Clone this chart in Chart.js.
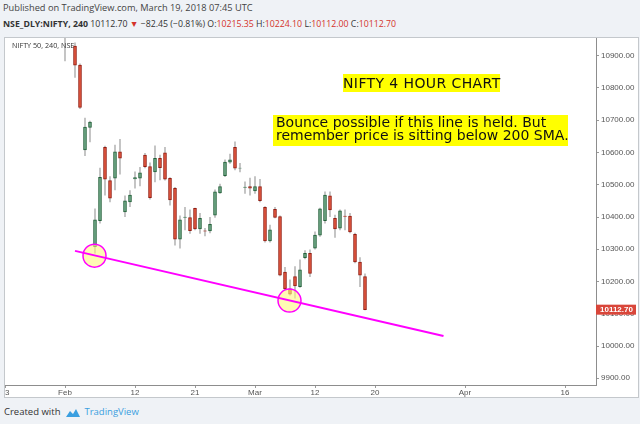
<!DOCTYPE html>
<html>
<head>
<meta charset="utf-8">
<script src="https://cdn.jsdelivr.net/npm/chart.js@4.4.1/dist/chart.umd.min.js"></script>
<style>
  html, body { margin: 0; padding: 0; }
  body { width: 640px; height: 424px; background: #eff2f6; position: relative; overflow: hidden; font-family: "Open Sans", sans-serif; color: #222; }
  .hdr { position: absolute; left: 3px; white-space: nowrap; line-height: 12px; }
  #hdr1 { top: 2px; color: #444; font-size: 9.25px; }
  #hdr2 { top: 18px; color: #333; font-size: 8.75px; }
  #hdr2 .r { color: #d4332b; }
  #frame { position: absolute; left: 4px; top: 37px; width: 633px; height: 359px; background: #fff; border: 1px solid #c4c8cc; }
  #frame canvas { position: absolute; left: 0; top: 0; }
  #legend { position: absolute; left: 7px; top: 2px; font-size: 7.2px; color: #333; white-space: nowrap; }
  .note { position: absolute; background: #ffff00; color: #111; font-family: "DejaVu Sans", sans-serif; font-size: 14px; white-space: nowrap; }
  #note1 { left: 338px; top: 36px; width: 157px; height: 18px; line-height: 18px; text-align: center; letter-spacing: 0.4px; }
  #note2 { left: 268px; top: 77px; width: 292px; padding: 1px 0 3px 3px; line-height: 13.4px; }
  #foot { position: absolute; left: 4px; top: 405px; font-size: 9.5px; line-height: 14px; color: #333; white-space: nowrap; }
  #foot svg { vertical-align: -3px; margin: 0 3px 0 5px; }
  #foot .tv { color: #3a9fe0; }
</style>
</head>
<body>
<div class="hdr" id="hdr1">Published on TradingView.com, March 19, 2018 07:45 UTC</div>
<div class="hdr" id="hdr2"><b>NSE_DLY:NIFTY, 240</b> 10112.70 <span class="r">&#9660;</span> &minus;82.45 (&minus;0.81%) O:<span class="r">10215.35</span> H:<span class="r">10224.10</span> L:<span class="r">10112.00</span> C:<span class="r">10112.70</span></div>
<div id="frame">
  <canvas id="graficoNifty" width="633" height="359" style="width:633px;height:359px"></canvas>
  <div id="legend">NIFTY 50, 240, NSE</div>
  <div class="note" id="note1">NIFTY 4 HOUR CHART</div>
  <div class="note" id="note2">Bounce possible if this line is held. But<br>remember price is sitting below 200 SMA.</div>
</div>
<div id="foot">Created with<svg width="16" height="10" viewBox="0 0 16 10"><path d="M1 9 L5 3 L8 6 L11 1 L15 9 Z" fill="#3a9fe0"/></svg><span class="tv">TradingView</span></div>

<script>
// 4 hour bars, slot 0 = Feb 1 first session
const abertura = [11040, 10990, 10930, 10871, 10608, 10678, 10308, 10389, 10616, 10513,
  10520, 10602, 10416, 10447, 10518, 10520, 10592, 10556, 10540, 10582,
  10599, 10520, 10489, 10331, 10399, 10398, 10427, 10363, 10357, 10357,
  10406, 10475, 10528, 10570, 10616, 10551, 10492, 10494, 10481, 10494,
  10430, 10326, 10424, 10401, 10229, 10177, 10215, 10184, 10274, 10287,
  10303, 10344, 10389, 10466, 10396, 10365, 10403, 10403, 10346, 10260, 10215.35];
const maxima = [11117, 11030, 10940, 10875, 10707, 10697, 10425, 10552, 10620, 10525,
  10623, 10641, 10466, 10482, 10540, 10554, 10597, 10568, 10621, 10592,
  10616, 10522, 10492, 10404, 10430, 10422, 10428, 10411, 10365, 10399,
  10484, 10502, 10577, 10595, 10633, 10566, 10509, 10521, 10525, 10517,
  10432, 10375, 10430, 10404, 10244, 10205, 10246, 10267, 10296, 10298,
  10354, 10428, 10478, 10478, 10406, 10422, 10422, 10411, 10350, 10274, 10224.10];
const minimas = [10884, 10975, 10833, 10736, 10590, 10633, 10288, 10381, 10468, 10447,
  10484, 10533, 10401, 10432, 10489, 10496, 10552, 10455, 10509, 10515,
  10514, 10437, 10313, 10303, 10360, 10349, 10360, 10349, 10341, 10351,
  10399, 10473, 10525, 10566, 10546, 10540, 10473, 10468, 10473, 10447,
  10322, 10322, 10397, 10217, 10174, 10158, 10148, 10182, 10270, 10215,
  10300, 10340, 10381, 10401, 10337, 10360, 10360, 10351, 10258, 10184, 10112.00];
const fechamento = [10990, 11016, 10871, 10740, 10679, 10694, 10391, 10523, 10517, 10458,
  10602, 10582, 10450, 10468, 10522, 10537, 10556, 10460, 10582, 10553,
  10517, 10453, 10331, 10391, 10400, 10358, 10363, 10396, 10356, 10377,
  10478, 10494, 10570, 10577, 10551, 10552, 10493, 10489, 10494, 10451,
  10326, 10360, 10399, 10220, 10177, 10161, 10186, 10236, 10287, 10225,
  10344, 10425, 10468, 10422, 10363, 10419, 10402, 10354, 10261, 10220, 10112.70];

const marcasTempo = [-12, 0, 14, 26, 38, 50, 62, 80, 100];
const rotulosTempo = ["23", "Feb", "12", "21", "Mar", "12", "20", "Apr", "16"];

const linhaSuporte = [{ x: 2, y: 10295 }, { x: 75.7, y: 10031 }];
const circulos = [{ x: 5.9, y: 10280 }, { x: 44.9, y: 10141 }];

const ultimoPreco = 10112.70;

const corAlta = "#6ba583", bordaAlta = "#23603a";
const corBaixa = "#e0533b", bordaBaixa = "#921d12";

const pavios = abertura.map((o, i) => ({ x: i, y: [minimas[i], maxima[i]] }));
const corpos = abertura.map((o, i) => ({ x: i, y: [o, fechamento[i]] }));
const cores = abertura.map((o, i) => (fechamento[i] >= o ? corAlta : corBaixa));
const bordas = abertura.map((o, i) => (fechamento[i] >= o ? bordaAlta : bordaBaixa));

const etiquetaPreco = {
  id: "etiquetaPreco",
  afterDraw(chart) {
    const { ctx, chartArea, scales } = chart;
    const y = scales.y.getPixelForValue(ultimoPreco);
    ctx.save();
    ctx.fillStyle = "#d9463a";
    ctx.fillRect(chartArea.right, y - 5, 40, 10);
    ctx.fillStyle = "#fff";
    ctx.font = "bold 8px 'Liberation Sans'";
    ctx.textBaseline = "middle";
    ctx.fillText(ultimoPreco.toFixed(2), chartArea.right + 4, y + 0.5);
    ctx.restore();
  },
};

const graficoNifty = new Chart(document.getElementById("graficoNifty"), {
  type: "bar",
  data: {
    datasets: [
      {
        data: pavios,
        backgroundColor: "#b9b9b9",
        barThickness: 1,
        grouped: false,
        order: 4,
        clip: 0,
      },
      {
        data: corpos,
        backgroundColor: cores,
        borderColor: bordas,
        borderWidth: 1,
        borderSkipped: false,
        barThickness: 3,
        grouped: false,
        order: 3,
        clip: 0,
      },
      {
        type: "line",
        data: circulos,
        showLine: false,
        pointRadius: 11.5,
        pointBackgroundColor: "rgba(255, 246, 130, 0.6)",
        pointBorderColor: "#ff00ff",
        pointBorderWidth: 1.5,
        order: 2,
      },
      {
        type: "line",
        data: linhaSuporte,
        borderColor: "#ff00ff",
        borderWidth: 2,
        pointRadius: 0,
        order: 1,
      },
    ],
  },
  options: {
    responsive: false,
    animation: false,
    layout: { padding: 0, autoPadding: false },
    plugins: { legend: { display: false }, tooltip: { enabled: false } },
    scales: {
      x: {
        type: "linear",
        offset: false,
        min: -12,
        max: 106.2,
        grid: { drawOnChartArea: false, drawTicks: true, tickLength: 3, color: "#999", offset: false },
        border: { display: true, color: "#8d8d8d" },
        ticks: {
          autoSkip: false,
          maxRotation: 0,
          padding: 0,
          color: "#555",
          font: { family: "Liberation Sans", size: 8 },
          callback: (v) => {
            const k = marcasTempo.indexOf(v);
            return k >= 0 ? rotulosTempo[k] : "";
          },
        },
        afterBuildTicks: (s) => {
          s.ticks = marcasTempo.map((v) => ({ value: v }));
        },
        afterFit: (s) => {
          s.height = 12;
          s.paddingLeft = 0;
          s.paddingRight = 0;
        },
      },
      y: {
        type: "linear",
        position: "right",
        min: 9879.2,
        max: 10954.9,
        grid: { drawOnChartArea: false, drawTicks: true, tickLength: 3, color: "#999" },
        border: { display: true, color: "#8d8d8d" },
        ticks: {
          stepSize: 100,
          includeBounds: false,
          padding: 2,
          color: "#555",
          font: { family: "Liberation Sans", size: 8 },
          callback: (v) => v.toFixed(2),
        },
        afterFit: (s) => {
          s.width = 42;
          s.paddingTop = 0;
          s.paddingBottom = 0;
        },
      },
    },
  },
  plugins: [etiquetaPreco],
});
</script>
</body>
</html>
